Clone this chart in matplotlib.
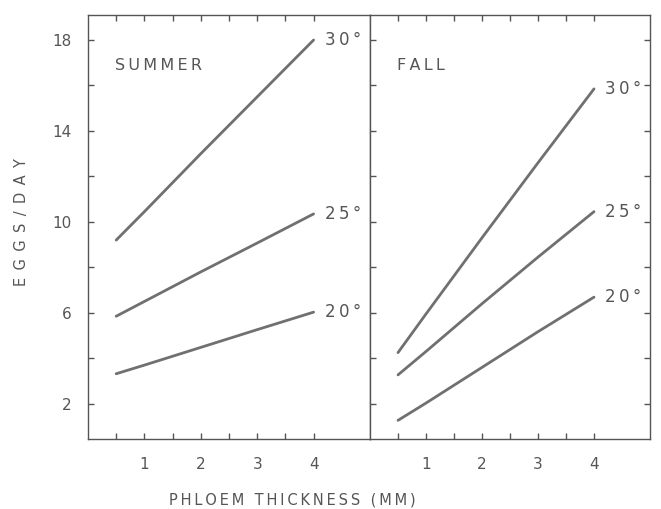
import matplotlib
matplotlib.use("Agg")
import matplotlib.pyplot as plt

# phloem thickness (mm) where each line was read
thick = [0.5, 1, 2, 3, 4]

# eggs/day
summer_30 = [9.2, 10.45, 13.0, 15.5, 18.0]
summer_25 = [5.85, 6.5, 7.8, 9.07, 10.35]
summer_20 = [3.32, 3.7, 4.48, 5.26, 6.03]

fall_30 = [4.25, 5.95, 9.3, 12.6, 15.85]
fall_25 = [3.27, 4.3, 6.4, 8.45, 10.45]
fall_20 = [1.27, 2.03, 3.6, 5.17, 6.69]

temps = ["30°", "25°", "20°"]
seasons = ["SUMMER", "FALL"]

ink = "#555555"
line_col = "#707070"


def spaced(s):
    # the old typed lettering is widely spaced
    return "\u2009".join(s)


fig = plt.figure(figsize=(6.61, 5.09), dpi=100)
ax1 = fig.add_axes([88 / 661, 70 / 509, 282 / 661, 424 / 509])
ax2 = fig.add_axes([370 / 661, 70 / 509, 280 / 661, 424 / 509])

panels = [
    (ax1, [summer_30, summer_25, summer_20], seasons[0]),
    (ax2, [fall_30, fall_25, fall_20], seasons[1]),
]

for ax, series, name in panels:
    for vals, t in zip(series, temps):
        ax.plot(thick, vals, color=line_col, lw=2.0, solid_capstyle="round")
        ax.text(thick[-1] + 0.2, vals[-1], spaced(t), color=ink, fontsize=12,
                ha="left", va="center")
    ax.text(0.48, 16.9, spaced(name), color=ink, fontsize=11.5,
            ha="left", va="center")

    ax.set_xlim(0, 5)
    ax.set_ylim(0.45, 19.1)
    ax.set_xticks([0.5, 1, 1.5, 2, 2.5, 3, 3.5, 4])
    ax.set_xticklabels(["", "1", "", "2", "", "3", "", "4"])
    ax.set_yticks([2, 4, 6, 8, 10, 12, 14, 16, 18])
    for sp in ax.spines.values():
        sp.set_color(ink)
        sp.set_linewidth(1.0)
    ax.tick_params(direction="in", length=4, width=1, color=ink,
                   labelcolor=ink, labelsize=11, top=True)
    ax.tick_params(axis="x", pad=13)
    ax.tick_params(axis="y", pad=12)

ax1.set_yticklabels(["2", "", "6", "", "10", "", "14", "", "18"])
ax1.tick_params(axis="y", right=False)
ax2.tick_params(axis="y", left=True, right=True, labelleft=False)

fig.text(292 / 661, 9 / 509, spaced("PHLOEM THICKNESS (MM)"), color=ink,
         fontsize=10.5, ha="center", va="center")
fig.text(22 / 661, 1 - 222 / 509, "\u2002".join("EGGS/DAY"), color=ink,
         fontsize=10.5, ha="center", va="center", rotation=90)

fig.savefig("out.png", dpi=100)
